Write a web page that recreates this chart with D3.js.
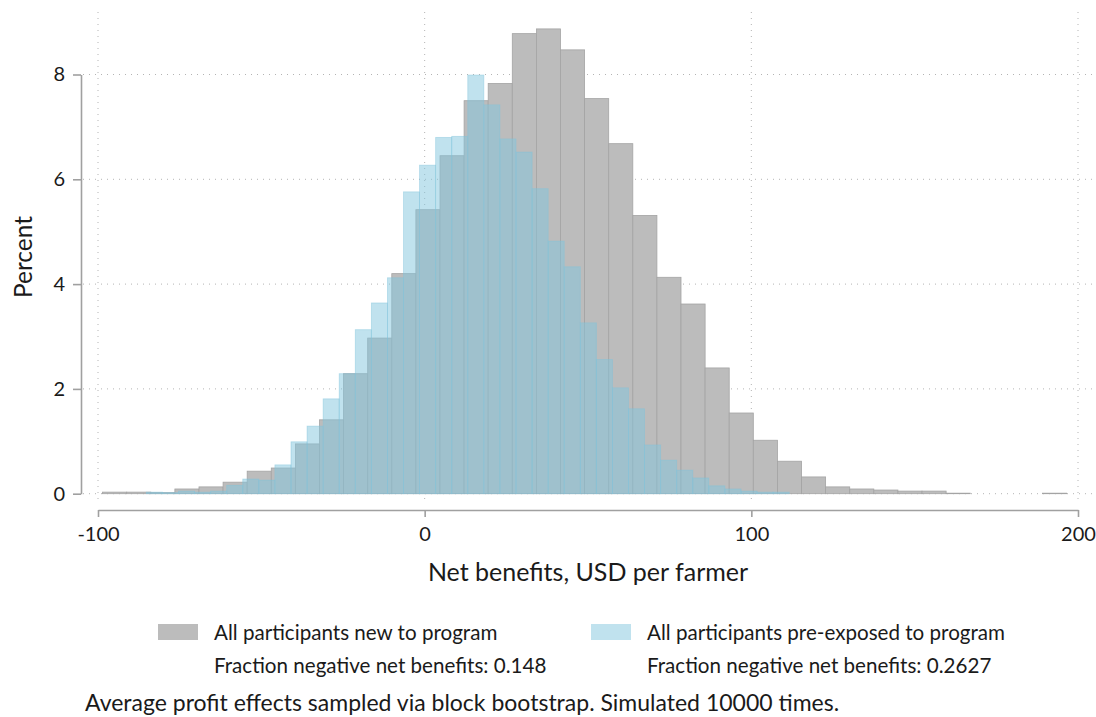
<!DOCTYPE html>
<html>
<head>
<meta charset="utf-8">
<script src="https://cdn.jsdelivr.net/npm/d3@7"></script>
<style>
    body { margin: 0; background: #fff; }
    svg text { font-family: Lato, "Open Sans", sans-serif; fill: #1a1a1a; }
</style>
</head>
<body>
<svg id="chart" width="1096" height="717"></svg>
<script>
// histogram bins (40 bins each, Stata default for N=10000)
const grayStart = -98.6;
const grayWidth = 7.378;
const grayPct = [0.03, 0.03, 0.02, 0.09, 0.13, 0.22, 0.43, 0.49, 0.95, 1.41,
    2.29, 2.97, 4.20, 5.42, 6.45, 7.50, 7.83, 8.78, 8.87, 8.47,
    7.54, 6.68, 5.31, 4.13, 3.62, 2.40, 1.54, 1.02, 0.62, 0.32,
    0.13, 0.09, 0.07, 0.05, 0.05, 0.01, 0, 0, 0, 0.01];

const blueStart = -85.2;
const blueWidth = 4.92;
const bluePct = [0.03, 0.02, 0.05, 0.03, 0.05, 0.16, 0.28, 0.26, 0.55, 0.99,
    1.29, 1.81, 2.29, 3.13, 3.64, 4.12, 5.76, 6.27, 6.80, 6.82,
    7.99, 7.42, 6.77, 6.52, 5.82, 4.82, 4.33, 3.26, 2.56, 2.02,
    1.62, 0.93, 0.64, 0.45, 0.30, 0.15, 0.09, 0.05, 0.03, 0.03];

const xTicks = [-100, 0, 100, 200];
const yTicks = [0, 2, 4, 6, 8];
const legendNames = ["All participants new to program", "All participants pre-exposed to program"];
const legendFractions = ["Fraction negative net benefits: 0.148", "Fraction negative net benefits: 0.2627"];
const noteText = "Average profit effects sampled via block bootstrap. Simulated 10000 times.";

function toBins(start, width, values) {
    return values.map((v, i) => {
        return { x0: start + i * width, x1: start + (i + 1) * width, pct: v };
    });
}

let svg = d3.select("#chart");

let x = d3.scaleLinear().domain([-100, 200]).range([98, 1078]);
let y = d3.scaleLinear().domain([0, 8]).range([493.7, 74.5]);

// dotted grid
let grid = svg.append("g").attr("class", "grid");
grid.selectAll("line.hgrid")
    .data(yTicks)
    .enter().append("line")
    .attr("class", "hgrid")
    .attr("x1", 83)
    .attr("x2", 1092)
    .attr("y1", d => y(d))
    .attr("y2", d => y(d))
    .attr("stroke", "#b4b4b4")
    .attr("stroke-width", 1)
    .attr("stroke-dasharray", "1,5");
grid.selectAll("line.vgrid")
    .data(xTicks)
    .enter().append("line")
    .attr("class", "vgrid")
    .attr("x1", d => x(d))
    .attr("x2", d => x(d))
    .attr("y1", 12)
    .attr("y2", 503)
    .attr("stroke", "#b4b4b4")
    .attr("stroke-width", 1)
    .attr("stroke-dasharray", "1,5");

// gray histogram first
svg.append("g")
    .attr("class", "grayBars")
    .selectAll("rect")
    .data(toBins(grayStart, grayWidth, grayPct).filter(d => d.pct > 0))
    .enter().append("rect")
    .attr("x", d => x(d.x0))
    .attr("width", d => x(d.x1) - x(d.x0))
    .attr("y", d => y(d.pct))
    .attr("height", d => y(0) - y(d.pct))
    .attr("fill", "#bcbcbc")
    .attr("stroke", "#a4a4a4")
    .attr("stroke-width", 0.8);

// light blue histogram on top, half transparent
svg.append("g")
    .attr("class", "blueBars")
    .selectAll("rect")
    .data(toBins(blueStart, blueWidth, bluePct))
    .enter().append("rect")
    .attr("x", d => x(d.x0))
    .attr("width", d => x(d.x1) - x(d.x0))
    .attr("y", d => y(d.pct))
    .attr("height", d => y(0) - y(d.pct))
    .attr("fill", "rgb(129,197,221)")
    .attr("fill-opacity", 0.5)
    .attr("stroke", "rgb(129,197,221)")
    .attr("stroke-opacity", 0.5)
    .attr("stroke-width", 0.8);

// y axis
let yAxis = svg.append("g")
    .attr("transform", "translate(81,0)")
    .call(d3.axisLeft(y).tickValues(yTicks).tickSize(8).tickSizeOuter(0).tickPadding(8));
yAxis.select(".domain").attr("stroke", "#a0a0a0").attr("stroke-width", 1.6);
yAxis.selectAll(".tick line").attr("stroke", "#a0a0a0").attr("stroke-width", 1.6);
yAxis.selectAll(".tick text")
    .style("font-size", "20px")
    .attr("fill", "#1a1a1a");

// x axis, plain hyphen for negatives
let xAxis = svg.append("g")
    .attr("transform", "translate(0,510)")
    .call(d3.axisBottom(x).tickValues(xTicks).tickSize(7).tickSizeOuter(0).tickPadding(10).tickFormat(d => String(d)));
xAxis.select(".domain").attr("stroke", "#a0a0a0").attr("stroke-width", 1.6);
xAxis.selectAll(".tick line").attr("stroke", "#a0a0a0").attr("stroke-width", 1.6);
xAxis.selectAll(".tick text")
    .style("font-size", "20px")
    .attr("fill", "#1a1a1a");

// axis titles
svg.append("text")
    .attr("x", 588)
    .attr("y", 581)
    .attr("text-anchor", "middle")
    .style("font-size", "25px")
    .text("Net benefits, USD per farmer");
svg.append("text")
    .attr("transform", "translate(32,257) rotate(-90)")
    .attr("text-anchor", "middle")
    .style("font-size", "24.5px")
    .text("Percent");

// legend
let legendX = [158, 591];
let legendColors = [
    { fill: "#bcbcbc", op: 1 },
    { fill: "rgb(129,197,221)", op: 0.5 }
];
let legend = svg.append("g")
    .attr("class", "legend")
    .selectAll("g")
    .data(legendNames)
    .enter().append("g")
    .attr("transform", (d, i) => `translate(${legendX[i]},0)`);
legend.append("rect")
    .attr("x", 0)
    .attr("y", 624)
    .attr("width", 40)
    .attr("height", 16)
    .attr("fill", (d, i) => legendColors[i].fill)
    .attr("fill-opacity", (d, i) => legendColors[i].op);
legend.append("text")
    .attr("x", 56)
    .attr("y", 640)
    .style("font-size", "20.6px")
    .text(d => d);
legend.append("text")
    .attr("x", 56)
    .attr("y", 673)
    .style("font-size", "20.6px")
    .text((d, i) => legendFractions[i]);

// note
svg.append("text")
    .attr("x", 85)
    .attr("y", 711)
    .style("font-size", "23px")
    .text(noteText);
</script>
</body>
</html>
